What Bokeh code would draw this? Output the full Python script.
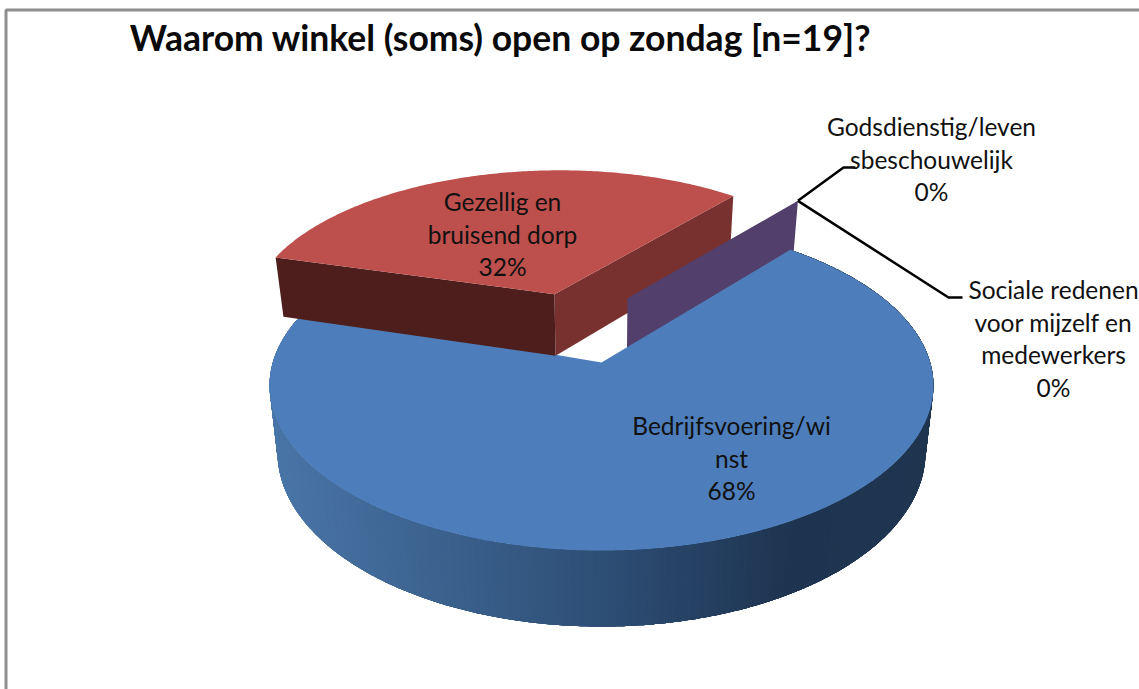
import math
from bokeh.plotting import figure
from bokeh.models import Range1d
from bokeh.core.properties import value
from bokeh.embed import file_html
from bokeh.resources import INLINE

# ---- data ----
title = "Waarom winkel (soms) open op zondag [n=19]?"
categories = ["Bedrijfsvoering/winst", "Gezellig en bruisend dorp",
              "Godsdienstig/levensbeschouwelijk", "Sociale redenen voor mijzelf en medewerkers"]
values = [13, 6, 0, 0]   # answers out of n=19: 68%, 32%, 0%, 0%
label_lines = [["Bedrijfsvoering/wi", "nst", "68%"],
               ["Gezellig en", "bruisend dorp", "32%"],
               ["Godsdienstig/leven", "sbeschouwelijk", "0%"],
               ["Sociale redenen", "voor mijzelf en", "medewerkers", "0%"]]
label_centres = [731, 502, 931, 1053]
label_tops = [425, 201, 126, 289]
first_slice_angle = 39.5

# ---- style / projection of the tilted pie ----
W, H = 1139, 689
CX, CY, A, B, K = 601, 362, 328.7, 161.8, 0.1395
DEPTH, BASE = 65.4, 0.976
BLUE_TOP, RED_TOP, RED_DARK, RED_MID, PURPLE = "#4d7ebb", "#bd4f4c", "#4d1e1c", "#78312e", "#533f6b"
FRAME = "#8f8f8f"
FONT = "Lato"
EXPLODE_RED, R_RED, RED_NUDGE = 0.47, 0.975, -0.012
PURPLE_OFFSET, R_PURPLE = (0.0837, 0.42), 0.96
LINE_H = 32.6
BLUE_TUCK = 3.0   # degrees of the blue top that run on under the red wall
STRIP_OVERLAP = 6  # each side strip runs on under the next ones, so no seams show


def top(u, v):
    d = 1 + K * v
    return CX + A * u / d, CY - B * v / d


def bottom(u, v):
    d = 1 + K * v
    x, y = top(u, v)
    return CX + BASE * (x - CX), y + DEPTH / d


def rim(theta, r=1.0, off=(0.0, 0.0)):
    t = math.radians(theta)
    return off[0] + r * math.sin(t), off[1] + r * math.cos(t)


def arc(a0, a1, r=1.0, off=(0.0, 0.0), n=180):
    return [rim(a0 + (a1 - a0) * i / n, r, off) for i in range(n + 1)]


def poly(points, f=top):
    pts = [f(*q) for q in points]
    return [q[0] for q in pts], [q[1] for q in pts]


def side_colour(x):
    stops = [(275, (0x4a, 0x76, 0xa8)), (600, (0x2e, 0x4f, 0x76)), (790, (0x1e, 0x34, 0x50)), (940, (0x20, 0x36, 0x50))]
    for (x0, c0), (x1, c1) in zip(stops, stops[1:]):
        if x <= x1:
            s = max(0.0, (x - x0) / (x1 - x0))
            return "#%02x%02x%02x" % tuple(round(a + (b - a) * s) for a, b in zip(c0, c1))
    return "#203650"


total = sum(values)
sweeps = [360.0 * v / total for v in values]
a0 = first_slice_angle
blue_end = a0 + sweeps[0]
red_end = blue_end + sweeps[1]
red_mid = (blue_end + red_end) / 2
ru, rv = rim(red_mid, EXPLODE_RED)
red_off = (ru + RED_NUDGE, rv)

p = figure(width=W, height=H, x_range=Range1d(0, W), y_range=Range1d(H, 0),
           toolbar_location=None, output_backend="svg", min_border=0,
           x_axis_type=None, y_axis_type=None, outline_line_color=None)
p.grid.visible = False

# frame
p.line([5.5, 5.5, W], [H, 9.5, 9.5], line_color=FRAME, line_width=3)

# red slice (exploded): right radial wall lies behind everything
red_arc = arc(blue_end, red_end, R_RED, red_off)
left_corner, right_corner = red_arc[0], red_arc[-1]
tx, ty = poly([right_corner, red_off])
bx, by = poly([red_off, right_corner], bottom)
p.patch(tx + bx, ty + by, fill_color=RED_MID, line_color=None)

# the two empty slices: only their wall shows
zero_angle = red_end - 360
zero_rim = rim(zero_angle, R_PURPLE, PURPLE_OFFSET)
tx, ty = poly([PURPLE_OFFSET, zero_rim])
bx, by = poly([zero_rim, PURPLE_OFFSET], bottom)
p.patch(tx + bx, ty + by, fill_color=PURPLE, line_color=None)

# blue slice: curved side with gradient, then top
blue_arc = arc(a0, blue_end, n=int(sweeps[0] * 2))
xs, ys, cs = [], [], []
for i in range(len(blue_arc) - 1):
    seg = blue_arc[i:i + STRIP_OVERLAP + 1]
    tx, ty = poly(seg)
    bx, by = poly(seg[::-1], bottom)
    xs.append(tx + bx)
    ys.append(ty + by)
    cs.append(side_colour(bottom(*blue_arc[i])[0]))
p.patches(xs, ys, fill_color=cs, line_color=None)
tx, ty = poly(arc(a0, blue_end + BLUE_TUCK, n=int(sweeps[0] * 2)) + [(0.0, 0.0)])
p.patch(tx, ty, fill_color=BLUE_TOP, line_color=None)

# red slice: left radial wall and top, in front of the blue
tx, ty = poly([left_corner, red_off])
bx, by = poly([red_off, left_corner], bottom)
p.patch(tx + bx, ty + by, fill_color=RED_DARK, line_color=None)
tx, ty = poly(red_arc + [red_off])
p.patch(tx, ty, fill_color=RED_TOP, line_color=None)

# leader lines, from the empty slices' rim to their labels
lx, ly = top(*zero_rim)
p.line([lx, 843, 855], [ly, 167, 167], line_color="black", line_width=2.5)
p.line([lx, 948, 962], [ly, 297, 297], line_color="black", line_width=2.5)

# data labels
tx, ty, tt = [], [], []
for lines, cx, y in zip(label_lines, label_centres, label_tops):
    for i, s in enumerate(lines):
        tx.append(cx)
        ty.append(y + i * LINE_H)
        tt.append(s)
p.text(x=tx, y=ty, text=tt, text_font=value(FONT), text_font_size="24.5px", text_color="#111111",
       text_align="center", text_baseline="middle")

p.text(x=[500], y=[37], text=[title], text_font=value(FONT), text_font_size="35.5px",
       text_font_style="bold", text_color="#0a0a0a", text_align="center", text_baseline="middle")

open("out.html", "w").write(file_html(p, INLINE))
